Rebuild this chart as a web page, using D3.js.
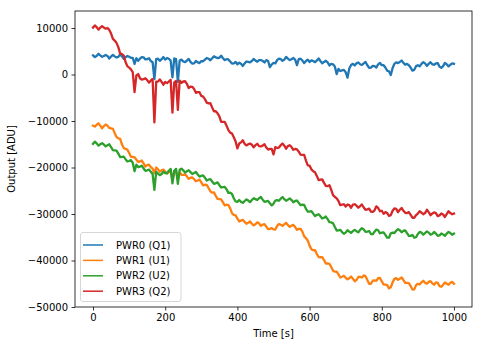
<!DOCTYPE html>
<html><head><meta charset="utf-8">
<script src="https://cdn.jsdelivr.net/npm/d3@7/dist/d3.min.js"></script>
<style>body{margin:0;background:#fff}svg{display:block}text{font-family:"DejaVu Sans",sans-serif}</style>
</head><body>
<script>
const times = [0,5,10,15,20,25,30,35,40,45,50,55,60,65,70,75,80,85,90,95,100,105,110,115,120,125,130,135,140,145,150,155,160,165,170,175,180,185,190,195,200,205,210,215,220,225,230,235,240,245,250,255,260,265,270,275,280,285,290,295,300,305,310,315,320,325,330,335,340,345,350,355,360,365,370,375,380,385,390,395,400,405,410,415,420,425,430,435,440,445,450,455,460,465,470,475,480,485,490,495,500,505,510,515,520,525,530,535,540,545,550,555,560,565,570,575,580,585,590,595,600,605,610,615,620,625,630,635,640,645,650,655,660,665,670,675,680,685,690,695,700,705,710,715,720,725,730,735,740,745,750,755,760,765,770,775,780,785,790,795,800,805,810,815,820,825,830,835,840,845,850,855,860,865,870,875,880,885,890,895,900,905,910,915,920,925,930,935,940,945,950,955,960,965,970,975,980,985,990,995,1000];

const pwr0 = [4100,3750,4000,4450,4100,3800,4000,4200,4000,3450,3900,4200,3900,3650,3800,4350,3900,3400,3700,4000,3800,3600,3600,2300,3500,2950,3400,3750,3700,3250,3300,3500,2900,2650,-1000,3300,3400,2950,3300,3750,3200,3550,3400,3000,-600,3450,3300,-1600,3000,3200,2800,2650,3000,3350,2700,2350,2400,2900,2600,2450,2900,2850,3200,3550,3400,3050,3500,3900,3700,3550,3600,4050,3500,3100,3300,3250,2800,2350,2400,2700,2200,2550,2300,1850,2400,2800,2700,2600,2900,3350,3000,2750,3100,3100,2900,2600,3100,2900,1600,2150,2500,2400,3100,3400,3300,2950,3200,3800,3400,3100,3300,3550,3200,2000,3300,3400,3000,2450,2900,3200,2700,3050,2900,2650,3000,3450,2900,2400,2700,2950,2600,1950,2300,2200,1700,100,1200,750,900,1000,500,-700,1300,2050,2300,1950,2400,2600,2200,2050,2400,2700,2000,1450,1500,1850,1800,1500,2200,2500,2000,2000,1500,800,700,-100,1400,2300,2600,2450,2700,3000,2500,2100,2300,2000,1500,850,1000,1800,2000,1750,2300,2650,2400,1850,2300,2650,2200,2100,2400,2450,1700,1450,1800,2500,2200,1750,2100,2400,2300];

const pwr1 = [-11000,-11200,-10800,-10500,-11000,-11550,-11100,-10750,-11000,-11500,-11600,-11700,-12600,-13450,-13700,-13850,-15000,-15800,-16000,-16150,-16900,-17700,-17700,-17800,-18300,-18800,-18700,-18500,-19100,-19800,-19500,-19400,-19900,-20250,-21200,-20000,-20400,-20900,-20600,-20450,-20900,-21250,-21000,-20600,-22600,-21050,-20700,-22500,-21000,-21600,-21600,-21450,-21900,-22450,-22200,-22150,-22500,-22950,-22800,-22600,-23200,-23850,-23700,-23750,-24400,-25100,-25400,-25350,-26100,-26750,-26800,-26850,-27500,-28150,-28000,-28100,-28800,-29800,-30200,-30300,-31000,-31600,-31400,-31250,-31700,-32100,-31900,-31600,-32100,-32450,-32200,-31800,-32000,-32550,-32300,-32200,-32700,-33250,-33200,-33050,-33300,-33350,-32600,-32150,-32300,-32550,-32200,-31900,-32400,-32750,-32500,-32350,-32800,-33400,-33200,-33200,-33800,-34800,-35200,-35700,-36800,-37600,-37800,-37800,-38600,-39250,-39300,-39300,-39900,-40650,-40600,-40700,-41400,-42200,-42400,-42400,-43000,-43650,-43500,-43300,-43700,-44050,-43800,-43450,-43900,-44450,-44200,-43550,-43500,-43650,-43200,-43400,-44200,-45000,-45000,-44350,-44300,-44350,-43800,-43750,-44500,-45150,-45200,-45300,-46000,-45750,-44700,-43950,-43800,-44150,-43900,-43650,-44200,-44800,-44800,-44850,-45500,-46250,-46200,-45300,-45000,-45150,-44700,-44350,-44800,-45000,-44600,-44450,-44900,-45200,-44700,-44800,-45500,-45650,-45200,-44700,-45000,-45200,-44800,-44600,-45000];

const pwr2 = [-14900,-14450,-14800,-15300,-15000,-14750,-15100,-15450,-15200,-15000,-15600,-16250,-16300,-16350,-17000,-17750,-17700,-17650,-18200,-18700,-18600,-18400,-19000,-20800,-19400,-19900,-19800,-19600,-20200,-20700,-20600,-20450,-20900,-21400,-24800,-20900,-21300,-21650,-21400,-20900,-21200,-21250,-20700,-20300,-23400,-20700,-20300,-23500,-20500,-20250,-20600,-21100,-20800,-20600,-21000,-21400,-21200,-20950,-21500,-21950,-21800,-21700,-22200,-22800,-22600,-22500,-23000,-23500,-23400,-23200,-23800,-24300,-24200,-24150,-24700,-25450,-25400,-25700,-26600,-27300,-27400,-27000,-27400,-27600,-27200,-26850,-27100,-27450,-27000,-26600,-26800,-27000,-26600,-26350,-26900,-27400,-27300,-27200,-27700,-28150,-27800,-27100,-27000,-27150,-26700,-26350,-26800,-27150,-26900,-26650,-27000,-27500,-27200,-27100,-27600,-28100,-28000,-28050,-28900,-29500,-29500,-29400,-29900,-30450,-30200,-30050,-30500,-30950,-30800,-30550,-31100,-31750,-31800,-32000,-32800,-33550,-33500,-33400,-33900,-34250,-34000,-33500,-33800,-34050,-33700,-33400,-33700,-33950,-33400,-33050,-33300,-33850,-33800,-33650,-34300,-34350,-33800,-33350,-33500,-34150,-34000,-33950,-34500,-35100,-35100,-34150,-34000,-34100,-33600,-33250,-33500,-33950,-33600,-33550,-34100,-34700,-34700,-34500,-35100,-35000,-34300,-33850,-34000,-34450,-34100,-33750,-34000,-34450,-34300,-33850,-34200,-34700,-34600,-34200,-34400,-34700,-34200,-33850,-34100,-34450,-34200];

const pwr3 = [10100,10550,10200,9650,10100,10400,10100,9850,10000,9600,8800,7650,7300,6800,5900,4550,4400,4050,2700,1800,1500,1100,500,-3800,-200,100,-800,-1100,-1000,-800,-1200,-1750,-1300,-950,-10300,-1550,-1500,-1050,-1600,-2200,-1600,-1850,-1500,-1150,-8200,-1700,-1400,-7600,-1300,-1800,-1500,-1450,-2000,-2900,-2600,-2650,-3100,-3950,-3800,-3800,-4600,-4750,-5300,-6050,-6200,-6150,-7100,-7900,-7900,-8350,-9000,-10200,-10200,-10200,-11000,-11950,-12500,-12700,-13500,-14400,-15900,-14850,-14600,-14150,-14900,-15250,-15000,-14850,-15100,-15650,-15200,-14900,-15400,-15450,-15300,-15000,-15700,-16150,-16000,-16000,-17200,-15600,-15800,-15700,-15200,-14850,-15300,-15950,-15400,-15200,-15600,-16200,-16000,-16100,-16600,-17250,-17300,-17300,-18500,-19550,-19600,-20400,-20800,-21000,-21800,-22700,-22600,-22550,-23300,-23950,-24000,-23800,-24800,-25950,-26300,-26650,-27200,-28100,-28000,-27900,-28400,-27950,-28100,-28650,-28000,-27900,-28200,-28650,-28300,-27950,-28600,-29100,-29000,-28850,-29500,-29550,-29200,-28350,-28700,-29400,-29300,-29950,-29600,-29800,-30400,-30250,-29300,-28800,-28900,-29600,-29100,-28700,-29300,-29750,-29800,-29600,-30200,-30800,-30800,-30250,-29900,-29400,-29700,-30050,-29800,-29100,-29600,-30250,-29900,-29650,-29800,-30450,-30300,-29900,-30100,-30650,-30000,-29400,-29800,-30050,-29900];

const seriesNames = ["PWR0 (Q1)", "PWR1 (U1)", "PWR2 (U2)", "PWR3 (Q2)"];
const seriesValues = [pwr0, pwr1, pwr2, pwr3];
const colors = ["#1f77b4", "#ff7f0e", "#2ca02c", "#d62728"];
const xTicks = [0, 200, 400, 600, 800, 1000];
const yTicks = [10000, 0, -10000, -20000, -30000, -40000, -50000];
const xLabel = "Time [s]";
const yLabel = "Output [ADU]";

const W = 483, H = 347;
const L = 75, R = 472, T = 11, B = 307;
const svg = d3.select("body").append("svg").attr("width", W).attr("height", H);

const x = d3.scaleLinear().domain([-50, 1050]).range([L, R]);
const y = d3.scaleLinear().domain([-50000, 13660]).range([B, T]);

const fmt = v => (v < 0 ? "\u2212" + Math.abs(v) : String(v));

const clipId = "plotclip";
svg.append("clipPath").attr("id", clipId).append("rect")
  .attr("x", L).attr("y", T).attr("width", R - L).attr("height", B - T);

const line = d3.line().x((d, i) => x(times[i])).y(d => y(d));
const plot = svg.append("g").attr("clip-path", `url(#${clipId})`);
seriesValues.forEach((vals, k) => {
  plot.append("path").datum(vals.slice(0, times.length))
    .attr("d", line).attr("fill", "none")
    .attr("stroke", colors[k]).attr("stroke-width", 2.3)
    .attr("stroke-linejoin", "round").attr("stroke-linecap", "square");
});

// axes
const xAxis = d3.axisBottom(x).tickValues(xTicks).tickSize(3.5).tickPadding(3.5).tickFormat(fmt);
const yAxis = d3.axisLeft(y).tickValues(yTicks).tickSize(3.5).tickPadding(3.5).tickFormat(fmt);
const gx = svg.append("g").attr("transform", `translate(0,${B})`).call(xAxis);
const gy = svg.append("g").attr("transform", `translate(${L},0)`).call(yAxis);
[gx, gy].forEach(g => {
  g.select(".domain").remove();
  g.selectAll(".tick line").attr("stroke", "#000").attr("stroke-width", 0.8);
  g.selectAll(".tick text").attr("fill", "#000").attr("font-size", 10)
    .attr("font-family", "DejaVu Sans, sans-serif");
});

// spines
svg.append("rect").attr("x", L).attr("y", T).attr("width", R - L).attr("height", B - T)
  .attr("fill", "none").attr("stroke", "#000").attr("stroke-width", 0.8);

svg.append("text").attr("x", (L + R) / 2).attr("y", 337).attr("text-anchor", "middle")
  .attr("font-size", 10).text(xLabel);
svg.append("text").attr("transform", `translate(15,${(T + B) / 2}) rotate(-90)`)
  .attr("text-anchor", "middle").attr("font-size", 10).text(yLabel);

// legend
const lg = svg.append("g");
lg.append("rect").attr("x", 80.5).attr("y", 232.5).attr("width", 100.5).attr("height", 69)
  .attr("rx", 2.5).attr("fill", "#fff").attr("fill-opacity", 0.8)
  .attr("stroke", "#cccccc").attr("stroke-width", 0.8);
seriesNames.forEach((name, k) => {
  const cy = 245 + k * 15.4;
  lg.append("line").attr("x1", 83).attr("x2", 103).attr("y1", cy).attr("y2", cy)
    .attr("stroke", colors[k]).attr("stroke-width", 1.5);
  lg.append("text").attr("x", 116).attr("y", cy).attr("dy", "0.35em")
    .attr("font-size", 10).attr("fill", "#000").text(name);
});
</script>
</body></html>
